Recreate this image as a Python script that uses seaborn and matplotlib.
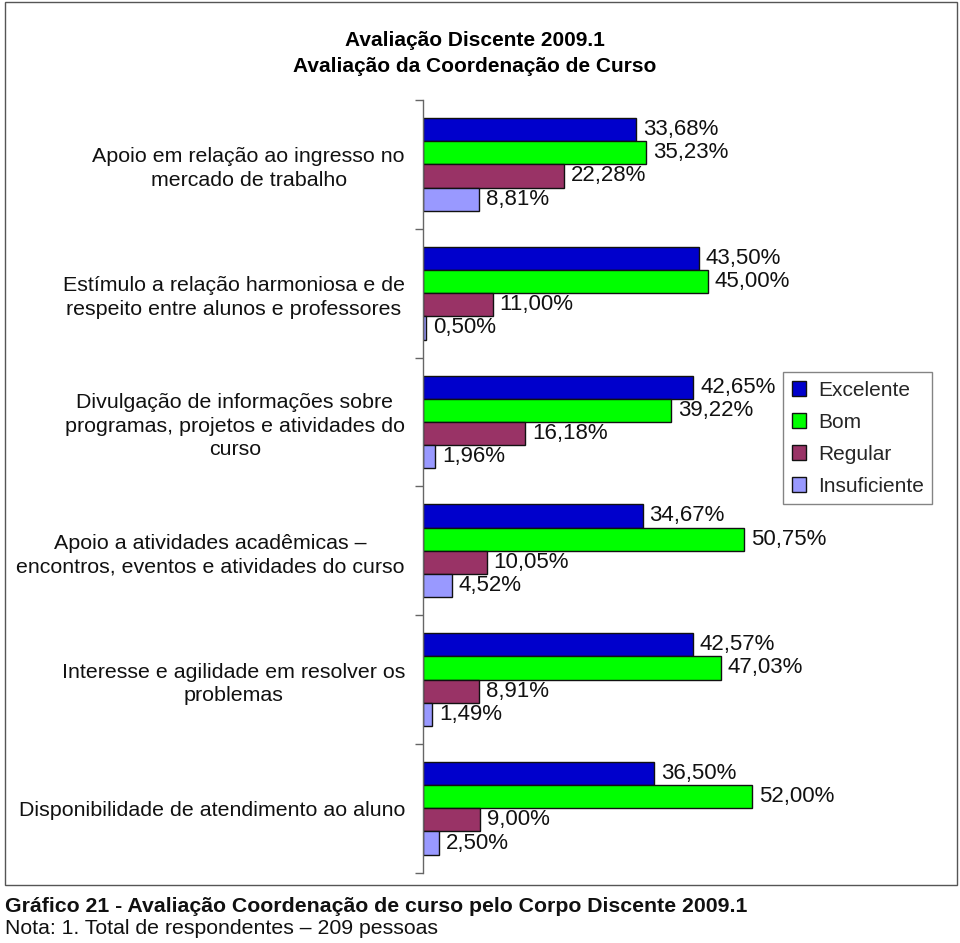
import matplotlib
matplotlib.use("Agg")
import matplotlib.pyplot as plt
import matplotlib.patches as mpatches
import seaborn as sns
import pandas as pd

categories = [
    "Apoio em relação ao ingresso no\nmercado de trabalho",
    "Estímulo a relação harmoniosa e de\nrespeito entre alunos e professores",
    "Divulgação de informações sobre\nprogramas, projetos e atividades do\ncurso",
    "Apoio a atividades acadêmicas –\nencontros, eventos e atividades do curso",
    "Interesse e agilidade em resolver os\nproblemas",
    "Disponibilidade de atendimento ao aluno",
]
series = ["Excelente", "Bom", "Regular", "Insuficiente"]
excelente = [33.68, 43.50, 42.65, 34.67, 42.57, 36.50]
bom = [35.23, 45.00, 39.22, 50.75, 47.03, 52.00]
regular = [22.28, 11.00, 16.18, 10.05, 8.91, 9.00]
insuficiente = [8.81, 0.50, 1.96, 4.52, 1.49, 2.50]
colors = ["#0000CC", "#00FF00", "#993366", "#9999FF"]

values = {"Excelente": excelente, "Bom": bom, "Regular": regular, "Insuficiente": insuficiente}
rows = []
for s in series:
    for c, v in zip(categories, values[s]):
        rows.append({"cat": c, "serie": s, "val": v})
df = pd.DataFrame(rows)

sns.set_style("white")
plt.rcParams["font.family"] = ["Liberation Sans", "DejaVu Sans"]

W, H = 960, 943
fig = plt.figure(figsize=(W / 100, H / 100), dpi=100)
ax = fig.add_axes([423 / W, 1 - 872.7 / H, 380 / W, (872.7 - 100) / H])

sns.barplot(data=df, y="cat", x="val", hue="serie", hue_order=series, order=categories,
            palette=colors, orient="h", width=0.72, edgecolor="#111111", linewidth=1.0,
            saturation=1, ax=ax, legend=False, errorbar=None)

ax.set_xlim(0, 60)
ax.set_ylim(len(categories) - 0.5, -0.5)
ax.set_xlabel("")
ax.set_ylabel("")
ax.set_xticks([])
for sp in ["top", "right", "bottom"]:
    ax.spines[sp].set_visible(False)
ax.spines["left"].set_color("#666666")
ax.spines["left"].set_linewidth(1.0)

ax.set_yticks(range(len(categories)))
ax.set_yticklabels(categories, fontsize=15.4, color="#111111", multialignment="center",
                   linespacing=1.3)
ax.tick_params(axis="y", which="major", length=0, pad=13)
ax.set_yticks([i - 0.5 for i in range(len(categories) + 1)], minor=True)
ax.tick_params(axis="y", which="minor", length=6, width=1, color="#666666", left=True)

for cont, s in zip(ax.containers, series):
    labels = [f"{v:.2f}%".replace(".", ",") for v in values[s]]
    ax.bar_label(cont, labels=labels, padding=5, fontsize=16, color="#111111")

handles = [mpatches.Patch(facecolor=c, edgecolor="#111111", linewidth=1.0, label=s)
           for c, s in zip(colors, series)]
leg = fig.legend(handles=handles, loc="upper left", bbox_to_anchor=(783 / W, 1 - 372 / H),
                 frameon=True, fancybox=False, fontsize=15, handlelength=0.7,
                 handleheight=0.7, handletextpad=0.55, labelspacing=0.62,
                 borderpad=0.42, borderaxespad=0)
leg.get_frame().set_edgecolor("#666666")
leg.get_frame().set_linewidth(1.0)

fig.text(475 / W, 1 - 40 / H, "Avaliação Discente 2009.1", ha="center", va="center",
         fontsize=15, fontweight="bold", color="#000000")
fig.text(475 / W, 1 - 66 / H, "Avaliação da Coordenação de Curso", ha="center", va="center",
         fontsize=15, fontweight="bold", color="#000000")

fig.add_artist(mpatches.Rectangle((5 / W, 1 - 885 / H), 952 / W, 883 / H,
                                  transform=fig.transFigure, fill=False,
                                  edgecolor="#555555", linewidth=1.0))

fig.text(5 / W, 1 - 906 / H, "Gráfico 21 - Avaliação Coordenação de curso pelo Corpo Discente 2009.1",
         ha="left", va="center", fontsize=15.3, fontweight="bold", color="#111111")
fig.text(5 / W, 1 - 928 / H, "Nota: 1. Total de respondentes – 209 pessoas",
         ha="left", va="center", fontsize=15.3, color="#111111")

fig.savefig("out.png", dpi=100, facecolor="white")
